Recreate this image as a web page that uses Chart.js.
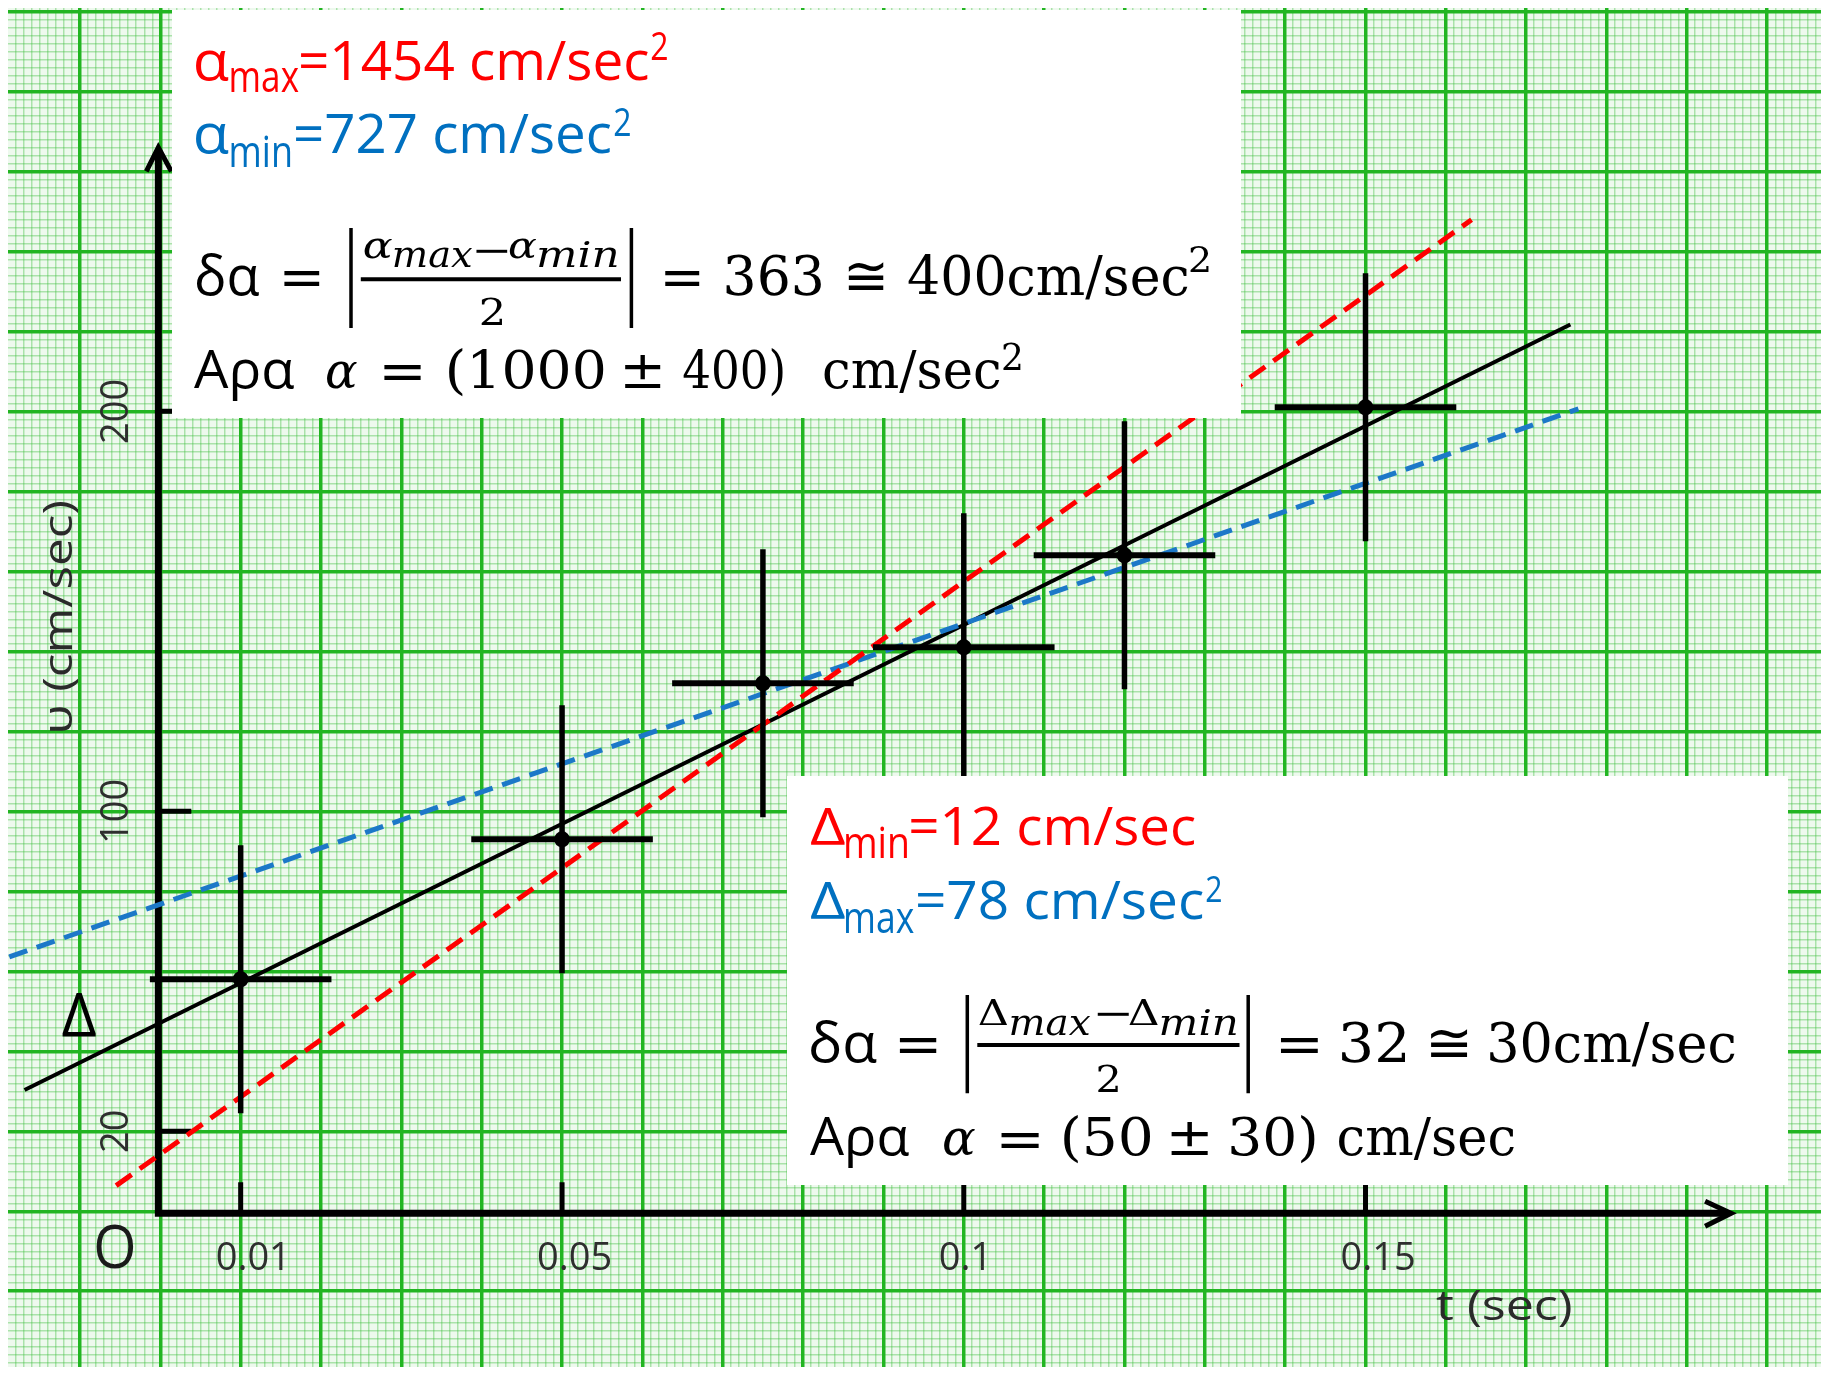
<!DOCTYPE html>
<html>
<head>
<meta charset="utf-8">
<title>υ - t</title>
<script src="https://cdn.jsdelivr.net/npm/chart.js@4.4.1/dist/chart.umd.min.js"></script>
<style>
html, body { margin: 0; padding: 0; background: #fff; }
#myChart { display: block; }
</style>
</head>
<body>
<canvas id="myChart" width="1829" height="1375"></canvas>
<script>
// measured points: t (sec) and υ (cm/sec)
var times = [0.01, 0.05, 0.075, 0.1, 0.12, 0.15];
var speeds = [58, 93, 132, 141, 164, 201];
// half size of the error bars
var timeErr = 0.0113;
var speedErr = 33.5;
// best line and the two extreme lines (end points)
var fitT = [-0.0169, 0.1755];
var fitV = [30.3, 221.7];
var maxT = [-0.0055, 0.1632];
var maxV = [6.4, 247.9];
var minT = [-0.0188, 0.1765];
var minV = [63.6, 200.6];
// hand drawn axes
var xTicks = [0.01, 0.05, 0.1, 0.15];
var yTicks = [20, 100, 200];
var axisEndT = 0.1955;
var axisEndV = 266;

// visible window of the graph paper
var X_MIN = -0.018959, X_MAX = 0.206691;
var Y_MIN = -38.94, Y_MAX = 300.84;

var SANS = '"Open Sans", "Noto Sans", sans-serif';
var SERIF = '"DejaVu Serif", "Liberation Serif", serif';
var RED = '#ff0000', BLUE = '#0070c0', BLACK = '#000000';

function steps(min, max, step) {
  var out = [];
  for (var k = Math.ceil(min / step); k * step <= max; k++) {
    out.push(Math.round(k * step * 1e6) / 1e6);
  }
  return out;
}

// scales that only draw the graph paper lines
function paperAxis(axis, min, max, step, color, width, z) {
  return {
    type: 'linear', axis: axis, position: axis === 'x' ? 'bottom' : 'left',
    min: min, max: max, z: z,
    ticks: { display: false },
    border: { display: false },
    grid: { color: color, lineWidth: width, drawTicks: false },
    afterBuildTicks: function (s) {
      s.ticks = steps(min, max, step).map(function (v) { return { value: v }; });
    }
  };
}

// error bars as broken lines
var hBars = [], vBars = [];
times.forEach(function (t, i) {
  hBars.push({ x: t - timeErr, y: speeds[i] }, { x: t + timeErr, y: speeds[i] }, { x: t, y: null });
  vBars.push({ x: t, y: speeds[i] - speedErr }, { x: t, y: speeds[i] + speedErr }, { x: t, y: null });
});
function pairs(a, b) { return a.map(function (v, i) { return { x: v, y: b[i] }; }); }

// draw text so that its ink goes from x0 to x1
function inkText(ctx, txt, x0, x1, base, size, family, style, color) {
  ctx.font = (style ? style + ' ' : '') + size + 'px ' + family;
  var m = ctx.measureText(txt);
  var ink = m.actualBoundingBoxLeft + m.actualBoundingBoxRight;
  var k = (x1 - x0) / ink;
  ctx.save();
  ctx.fillStyle = color;
  ctx.textAlign = 'left';
  ctx.textBaseline = 'alphabetic';
  ctx.translate(x0 + m.actualBoundingBoxLeft * k, base);
  ctx.scale(k, 1);
  ctx.fillText(txt, 0, 0);
  ctx.restore();
}

var box1 = [
  ['α', 196, 229, 80, 54, SANS, '', RED],
  ['max', 231, 299, 91.7, 44, SANS, '', RED],
  ['=1454 cm/sec', 301, 648.6, 80, 54, SANS, '', RED],
  ['2', 651, 667, 60, 38, SANS, '', RED],
  ['α', 196, 229, 153.3, 54, SANS, '', BLUE],
  ['min', 231, 290.5, 166.7, 44, SANS, '', BLUE],
  ['=727 cm/sec', 296, 611, 153.3, 54, SANS, '', BLUE],
  ['2', 614, 630, 136, 38, SANS, '', BLUE],
  ['δα', 196, 259.5, 295, 54, SANS, '', BLACK],
  ['=', 283.6, 320, 296, 55, SERIF, '', BLACK],
  ['α', 364, 392, 258, 38, SERIF, 'italic', BLACK],
  ['max', 394, 473, 266.7, 35, SERIF, 'italic', BLACK],
  ['−', 476.5, 507.5, 263, 38, SERIF, '', BLACK],
  ['α', 509, 536, 258, 38, SERIF, 'italic', BLACK],
  ['min', 538.5, 617.7, 266.7, 35, SERIF, 'italic', BLACK],
  ['2', 481, 502, 325, 37, SERIF, '', BLACK],
  ['=', 664.5, 700, 296, 55, SERIF, '', BLACK],
  ['363', 726.5, 821, 295, 55, SERIF, '', BLACK],
  ['≅', 848, 884, 295, 55, SERIF, '', BLACK],
  ['400cm/sec', 908, 1188, 295, 55, SERIF, '', BLACK],
  ['2', 1190, 1209, 272, 36, SERIF, '', BLACK],
  ['Αρα', 194, 294, 388.3, 53, SANS, '', BLACK],
  ['α', 327, 357, 388.3, 50, SERIF, 'italic', BLACK],
  ['=', 383.5, 421.4, 390, 55, SERIF, '', BLACK],
  ['(1000', 449, 604, 388.3, 53, SERIF, '', BLACK],
  ['±', 624.5, 660.4, 388.3, 53, SERIF, '', BLACK],
  ['400)', 683, 783, 388.3, 53, SERIF, '', BLACK],
  ['cm/sec', 824, 1000, 388.3, 53, SERIF, '', BLACK],
  ['2', 1003, 1020.5, 370, 37, SERIF, '', BLACK]
];
var box2 = [
  ['Δ', 810, 845.5, 845, 52, SANS, '', RED],
  ['min', 845.5, 907, 858.3, 43, SANS, '', RED],
  ['=12 cm/sec', 910.4, 1194.7, 845, 53, SANS, '', RED],
  ['Δ', 810, 845.5, 919.3, 52, SANS, '', BLUE],
  ['max', 845.5, 913.8, 932.7, 43, SANS, '', BLUE],
  ['=78 cm/sec', 917, 1202.8, 919.3, 53, SANS, '', BLUE],
  ['2', 1206, 1221.5, 901.7, 37, SANS, '', BLUE],
  ['δα', 810, 877, 1061.7, 54, SANS, '', BLACK],
  ['=', 899, 937, 1062.5, 55, SERIF, '', BLACK],
  ['Δ', 979, 1007.4, 1025, 35, SERIF, '', BLACK],
  ['max', 1010.8, 1091, 1035, 35, SERIF, 'italic', BLACK],
  ['−', 1097.7, 1129, 1026, 38, SERIF, '', BLACK],
  ['Δ', 1129, 1158, 1025, 35, SERIF, '', BLACK],
  ['min', 1161, 1237, 1035, 35, SERIF, 'italic', BLACK],
  ['2', 1097.7, 1117.8, 1091.7, 37, SERIF, '', BLACK],
  ['=', 1280, 1318.5, 1062.5, 55, SERIF, '', BLACK],
  ['32', 1342, 1405.4, 1061.7, 55, SERIF, '', BLACK],
  ['≅', 1430, 1467.6, 1061.7, 55, SERIF, '', BLACK],
  ['30cm/sec', 1490, 1735, 1061.7, 55, SERIF, '', BLACK],
  ['Αρα', 810, 909, 1155, 53, SANS, '', BLACK],
  ['α', 944, 975, 1155, 50, SERIF, 'italic', BLACK],
  ['=', 1000.7, 1039.5, 1158, 55, SERIF, '', BLACK],
  ['(50', 1064, 1151, 1155, 53, SERIF, '', BLACK],
  ['±', 1171, 1208, 1155, 53, SERIF, '', BLACK],
  ['30)', 1231.5, 1315, 1155, 53, SERIF, '', BLACK],
  ['cm/sec', 1338.5, 1514.5, 1155, 53, SERIF, '', BLACK]
];

function drawBox(ctx, rect, items, absBars, fracBar) {
  ctx.fillStyle = '#ffffff';
  ctx.fillRect(rect[0], rect[1], rect[2] - rect[0], rect[3] - rect[1]);
  items.forEach(function (it) { inkText(ctx, it[0], it[1], it[2], it[3], it[4], it[5], it[6], it[7]); });
  ctx.strokeStyle = BLACK;
  ctx.lineWidth = 3.5;
  ctx.beginPath();
  ctx.moveTo(absBars[0], absBars[2]); ctx.lineTo(absBars[0], absBars[3]);
  ctx.moveTo(absBars[1], absBars[2]); ctx.lineTo(absBars[1], absBars[3]);
  ctx.stroke();
  ctx.lineWidth = 4;
  ctx.beginPath();
  ctx.moveTo(fracBar[0], fracBar[2]); ctx.lineTo(fracBar[1], fracBar[2]);
  ctx.stroke();
}

var paper = {
  id: 'paper',
  beforeDraw: function (chart) {
    var ctx = chart.ctx, a = chart.chartArea;
    ctx.save();
    ctx.fillStyle = '#ffffff';
    ctx.fillRect(0, 0, chart.width, chart.height);
    ctx.fillStyle = '#eef9ee';
    ctx.fillRect(a.left, a.top, a.right - a.left, a.bottom - a.top);
    ctx.restore();
  }
};

var handAxes = {
  id: 'handAxes',
  beforeDatasetsDraw: function (chart) {
    var ctx = chart.ctx, sx = chart.scales.x, sy = chart.scales.y;
    var ox = sx.getPixelForValue(0) - 2, oy = sy.getPixelForValue(0) + 2;
    var xe = sx.getPixelForValue(axisEndT), ye = sy.getPixelForValue(axisEndV);
    ctx.save();
    ctx.strokeStyle = BLACK;
    ctx.lineCap = 'butt';
    ctx.lineJoin = 'miter';
    ctx.lineWidth = 7;
    ctx.beginPath();
    ctx.moveTo(ox, ye + 3); ctx.lineTo(ox, oy); ctx.lineTo(xe - 3, oy);
    ctx.stroke();
    ctx.lineWidth = 5;
    ctx.beginPath();
    ctx.moveTo(ox - 12, ye + 24); ctx.lineTo(ox, ye); ctx.lineTo(ox + 13, ye + 24);
    ctx.moveTo(xe - 26, oy - 12); ctx.lineTo(xe, oy); ctx.lineTo(xe - 26, oy + 13);
    ctx.stroke();
    // tick marks
    ctx.lineWidth = 5;
    ctx.beginPath();
    xTicks.forEach(function (t) {
      var p = sx.getPixelForValue(t);
      ctx.moveTo(p, oy); ctx.lineTo(p, oy - 31);
    });
    yTicks.forEach(function (v) {
      var p = sy.getPixelForValue(v);
      ctx.moveTo(ox, p); ctx.lineTo(ox + 33, p);
    });
    ctx.stroke();
    // tick labels
    ctx.fillStyle = '#2e2e2e';
    ctx.font = '38px ' + SANS;
    ctx.textBaseline = 'alphabetic';
    ctx.textAlign = 'left';
    xTicks.forEach(function (t) {
      ctx.fillText(String(t), sx.getPixelForValue(t) - 25, oy + 57);
    });
    yTicks.forEach(function (v) {
      ctx.save();
      ctx.translate(ox - 30, sy.getPixelForValue(v));
      ctx.rotate(-Math.PI / 2);
      ctx.textAlign = 'center';
      ctx.fillText(String(v), 0, 0);
      ctx.restore();
    });
    // axis titles
    ctx.save();
    ctx.translate(72, 616);
    ctx.rotate(-Math.PI / 2);
    inkText(ctx, 'υ (cm/sec)', -115, 115, 0, 40, SANS, '', '#2a2a2a');
    ctx.restore();
    inkText(ctx, 't (sec)', 1436, 1571, 1320, 42, SANS, '', '#2a2a2a');
    inkText(ctx, 'O', 96, 134, 1268, 60, SANS, '', '#1a1a1a');
    inkText(ctx, 'Δ', 62.5, 96, 1036, 60, SANS, '', '#000000');
    ctx.restore();
  }
};

var notes = {
  id: 'notes',
  afterDraw: function (chart) {
    var ctx = chart.ctx;
    ctx.save();
    drawBox(ctx, [172, 10, 1241, 418], box1, [351, 631.4, 228, 328], [360.8, 621, 279.3]);
    drawBox(ctx, [787, 776, 1788, 1185], box2, [967.3, 1248.2, 995, 1093.3], [977.3, 1239.5, 1045]);
    ctx.restore();
  }
};

var ctx = document.getElementById('myChart');
var myChart = new Chart(ctx, {
  type: 'scatter',
  data: {
    datasets: [
      {
        data: pairs(times, speeds),
        pointRadius: 8,
        pointBackgroundColor: BLACK,
        pointBorderWidth: 0
      },
      {
        data: hBars, showLine: true, spanGaps: false,
        borderColor: BLACK, borderWidth: 6, pointRadius: 0
      },
      {
        data: vBars, showLine: true, spanGaps: false,
        borderColor: BLACK, borderWidth: 5.5, pointRadius: 0
      },
      {
        data: pairs(maxT, maxV), showLine: true,
        borderColor: RED, borderWidth: 5, borderDash: [19, 10], pointRadius: 0
      },
      {
        data: pairs(minT, minV), showLine: true,
        borderColor: '#1c78c8', borderWidth: 5, borderDash: [19, 10], pointRadius: 0
      },
      {
        data: pairs(fitT, fitV), showLine: true,
        borderColor: BLACK, borderWidth: 4, pointRadius: 0
      }
    ]
  },
  options: {
    responsive: false,
    animation: false,
    devicePixelRatio: 1,
    layout: { padding: { left: 8, top: 5, right: 0, bottom: 0 } },
    plugins: { legend: { display: false }, tooltip: { enabled: false } },
    scales: {
      x: { type: 'linear', min: X_MIN, max: X_MAX, display: false },
      y: { type: 'linear', min: Y_MIN, max: Y_MAX, display: false },
      xMinor: paperAxis('x', X_MIN, X_MAX, 0.001, 'rgba(60,190,60,0.38)', 1.5, -2),
      yMinor: paperAxis('y', Y_MIN, Y_MAX, 2, 'rgba(60,190,60,0.38)', 1.5, -2),
      xMajor: paperAxis('x', X_MIN, X_MAX, 0.01, '#22b522', 3.5, -1),
      yMajor: paperAxis('y', Y_MIN, Y_MAX, 20, '#22b522', 3.5, -1)
    }
  },
  plugins: [paper, handAxes, notes]
});
</script>
</body>
</html>
